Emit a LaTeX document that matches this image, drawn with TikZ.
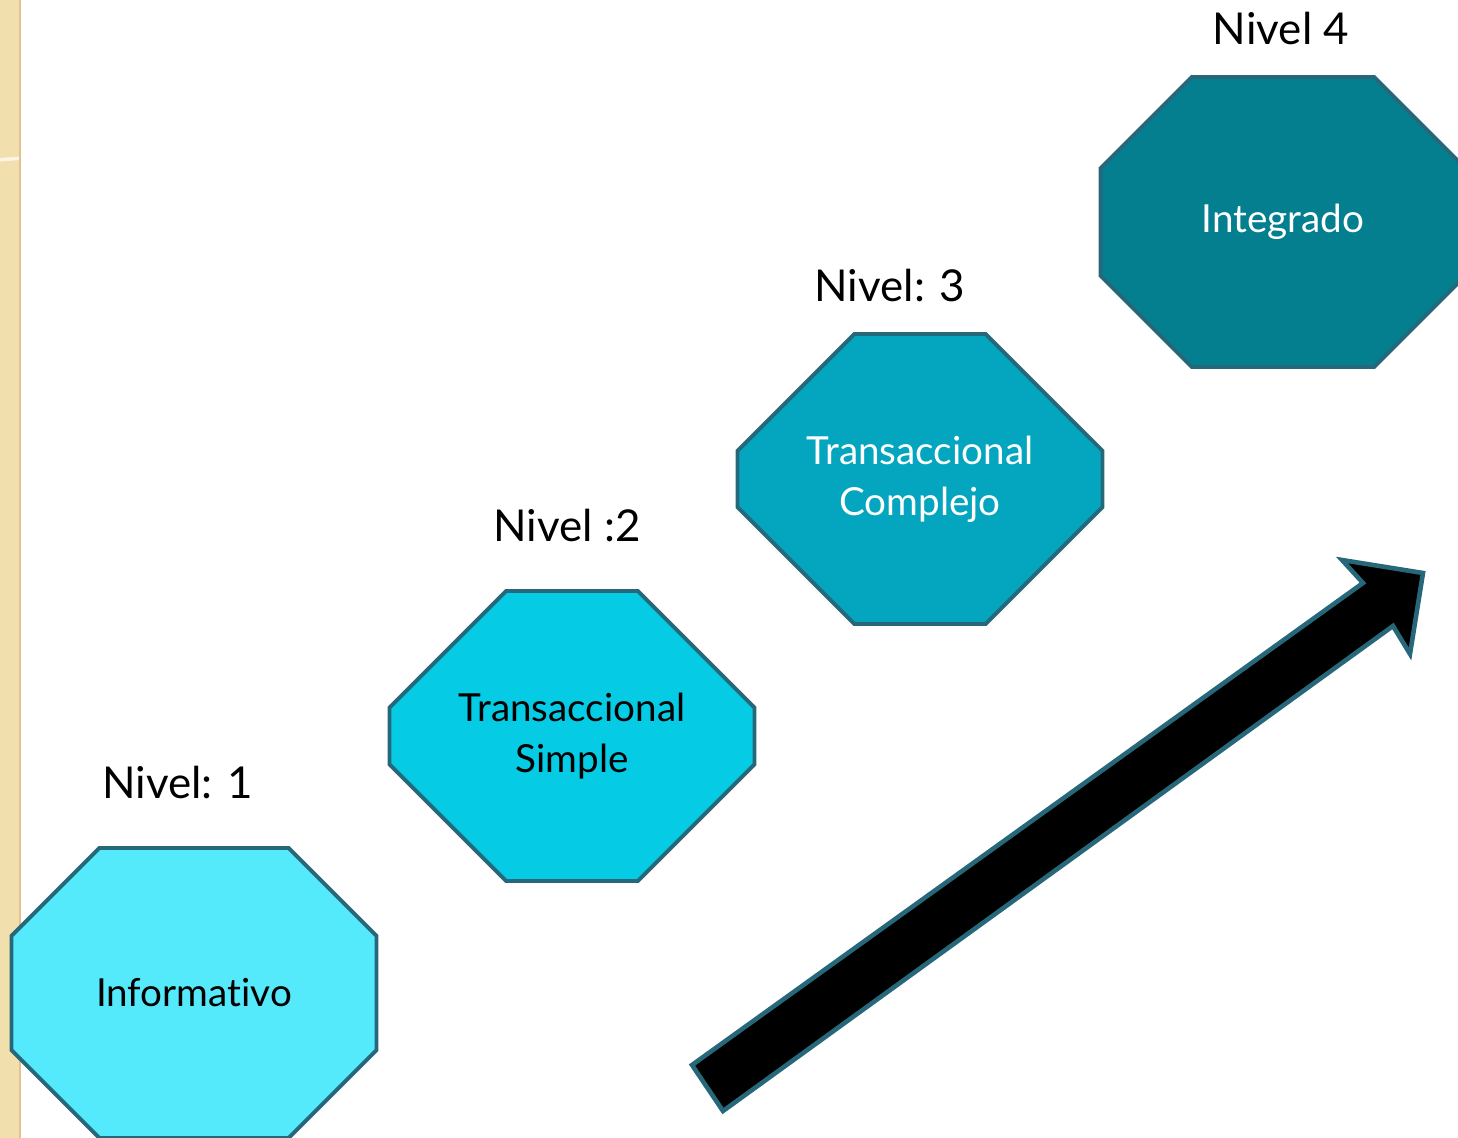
\documentclass[tikz,border=0pt]{standalone}
\usepackage{fontspec}
\setmainfont{Lato}[Ligatures=NoCommon]
\usetikzlibrary{shapes.misc}
\definecolor{nivA}{HTML}{55E9FC}
\definecolor{nivB}{HTML}{05CCE4}
\definecolor{nivC}{HTML}{03A6BE}
\definecolor{nivD}{HTML}{037F8F}
\definecolor{rand}{HTML}{26687A}
\definecolor{papel}{HTML}{F1DFAE}
\newcommand{\ow}{7.3cm}
\newcommand{\oh}{5.8cm}

\begin{document}
\begin{tikzpicture}[x=0.02cm, y=-0.02cm,
    octa/.style={chamfered rectangle, chamfered rectangle xsep=1.47cm, chamfered rectangle ysep=1.47cm,
        minimum width=\ow, minimum height=\oh, inner sep=0pt, draw=rand, line width=2.2pt,
        align=center, font=\fontsize{22}{29}\selectfont},
    nivel/.style={font=\fontsize{25}{30}\selectfont}]
    \useasboundingbox (0,0) rectangle (1458,1138);
    % side strip
    \fill[papel] (0,0) rectangle (20,1138);
    \begin{scope}
        \clip (0,0) rectangle (20,1138);
        \draw[papel!80!brown, line width=1pt] (-60,0) arc[start angle=90, end angle=-20, radius=90];
        \draw[white!70!papel, line width=2pt] (-5,160) -- (25,158);
        \draw[papel!80!brown, line width=1pt] (-80,300) arc[start angle=60, end angle=-40, radius=110];
    \end{scope}
    \draw[papel!70!brown, line width=0.6pt] (20,0) -- (20,1138);

    % levels
    \node[octa, fill=nivA] (oct-1) at (194,993) {Informativo};
    \node[octa, fill=nivB] (oct-2) at (572,736) {Transaccional\\Simple};
    \node[octa, fill=nivC, text=white] (oct-3) at (920,479) {Transaccional\\Complejo};
    \node[octa, fill=nivD, text=white] (oct-4) at (1283,222) {Integrado};

    \node[nivel] (niv-1) at (178,782) {Nivel: 1};
    \node[nivel] (niv-2) at (567,525) {Nivel :2};
    \node[nivel] (niv-3) at (890,286) {Nivel: 3};
    \node[nivel] (niv-4) at (1281,28) {Nivel 4};

    % arrow
    \draw[fill=black, draw=rand, line width=2.6pt, line join=miter]
        (692,1065) -- (1363,583) -- (1342,560) -- (1423,573) -- (1410,654) -- (1393,626) -- (723,1111) -- cycle;
\end{tikzpicture}
\end{document}
